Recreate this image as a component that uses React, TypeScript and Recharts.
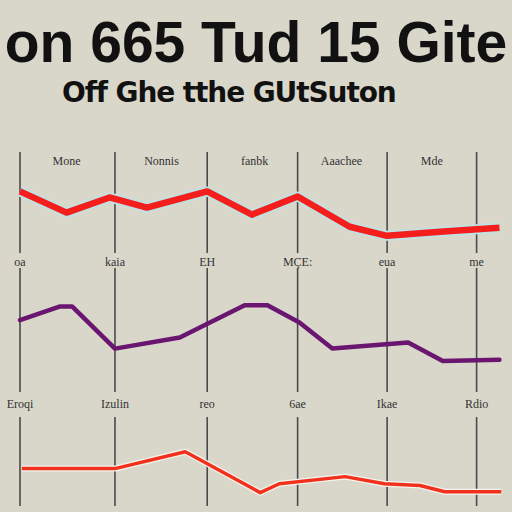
import { LineChart, Line, XAxis, YAxis, ReferenceLine } from "recharts";

// vertical guide lines and the label rows
const gridX = [0, 1.04, 2.05, 3.04, 4.02, 5.0];
const headerX = [0.51, 1.55, 2.57, 3.52, 4.51];
const headerLabels = ["Mone", "Nonnis", "fanbk", "Aaachee", "Mde"];
const rowOneLabels = ["oa", "kaia", "EH", "MÇE:", "eua", "me"];
const rowTwoLabels = ["Eroqi", "Izulin", "reo", "6ae", "Ikae", "Rdio"];

// top panel (red)
const topX = [0, 0.51, 0.98, 1.39, 2.05, 2.54, 3.04, 3.61, 4.02, 4.6, 5.25];
const topY = [61, 40, 55, 45, 61, 38, 56, 26, 17, 21, 25];

// middle panel (purple)
const midX = [0, 0.44, 0.57, 1.04, 1.75, 2.08, 2.46, 2.71, 3.06, 3.42, 4.25, 4.63, 5.25];
const midY = [58, 69, 69, 35, 44, 56, 70, 70, 56, 35, 40, 25, 26];

// bottom panel (thin red)
const botX = [0.02, 1.04, 1.81, 2.63, 2.84, 3.56, 3.99, 4.38, 4.65, 5.27];
const botY = [42, 42, 61, 15, 25, 33, 25, 23, 16, 16];

const bg = "#d9d7ca";
const gridColor = "#4a4a4a";
const tickStyle = { fontSize: 12, fill: "#333", fontFamily: "'Liberation Serif', serif" };

function zip(xs: number[], ys: number[]) {
  return xs.map((u, i) => ({ u, v: ys[i] }));
}

type PanelProps = {
  top: number;
  plotHeight: number;
  data: { u: number; v: number }[];
  bottomLabels?: string[];
  labelGap?: number;
  headers?: string[];
  children: React.ReactNode;
};

function Panel({ top, plotHeight, data, bottomLabels, labelGap = 4, headers, children }: PanelProps) {
  const axisH = bottomLabels ? 24 : 0;
  const height = 6 + plotHeight + axisH + (bottomLabels ? 0 : 1);
  return (
    <div style={{ position: "absolute", left: 0, top }}>
      <LineChart
        width={512}
        height={height}
        data={data}
        margin={{ top: 6, right: 8, bottom: 0, left: 20 }}
      >
        <XAxis
          xAxisId="b"
          dataKey="u"
          type="number"
          domain={[0, 5.3]}
          ticks={gridX}
          interval={0}
          hide={!bottomLabels}
          height={axisH}
          axisLine={false}
          tickLine={false}
          tickSize={0}
          tickMargin={labelGap}
          tick={tickStyle}
          tickFormatter={(_v: number, i: number) => (bottomLabels ? bottomLabels[i] : "")}
        />
        {headers && (
          <XAxis
            xAxisId="t"
            orientation="top"
            mirror
            dataKey="u"
            type="number"
            domain={[0, 5.3]}
            ticks={headerX}
            interval={0}
            axisLine={false}
            tickLine={false}
            tickSize={0}
            tickMargin={4}
            tick={tickStyle}
            tickFormatter={(_v: number, i: number) => headers[i]}
          />
        )}
        <YAxis hide domain={[0, 100]} />
        {gridX.map((x) => (
          <ReferenceLine key={x} xAxisId="b" x={x} stroke={gridColor} strokeWidth={1.6} />
        ))}
        {children}
      </LineChart>
    </div>
  );
}

export default function App() {
  return (
    <div
      style={{
        position: "fixed",
        left: 0,
        top: 0,
        width: 512,
        height: 512,
        background: bg,
        overflow: "hidden",
        fontFamily: "'Liberation Sans', sans-serif",
      }}
    >
      <div
        style={{
          position: "absolute",
          left: 0,
          width: 512,
          textAlign: "center",
          top: 14,
          fontSize: 57,
          fontWeight: "bold",
          lineHeight: 1,
          whiteSpace: "nowrap",
          color: "#111",
        }}
      >
        on 665 Tud 15 Gite
      </div>
      <div
        style={{
          position: "absolute",
          left: 62,
          top: 79,
          fontSize: 28,
          fontWeight: "bold",
          lineHeight: 1,
          whiteSpace: "nowrap",
          letterSpacing: -1.1,
          fontFamily: "'DejaVu Sans', sans-serif",
          color: "#111",
        }}
      >
        Off Ghe tthe GUtSuton
      </div>

      <Panel top={146} plotHeight={101} data={zip(topX, topY)} bottomLabels={rowOneLabels} headers={headerLabels}>
        <Line xAxisId="b" dataKey="v" stroke="#bfe2e4" strokeWidth={10} dot={false} isAnimationActive={false} strokeLinejoin="round" />
        <Line xAxisId="b" dataKey="v" stroke="#f41f1c" strokeWidth={6.5} dot={false} isAnimationActive={false} strokeLinejoin="round" />
      </Panel>

      <Panel top={262} plotHeight={124} data={zip(midX, midY)} bottomLabels={rowTwoLabels} labelGap={7}>
        <Line xAxisId="b" dataKey="v" stroke="#6a1670" strokeWidth={4.5} dot={false} isAnimationActive={false} strokeLinejoin="round" strokeLinecap="round" />
      </Panel>

      <Panel top={411} plotHeight={88} data={zip(botX, botY)}>
        <Line xAxisId="b" dataKey="v" stroke="#f4f4ee" strokeWidth={6} dot={false} isAnimationActive={false} strokeLinejoin="round" />
        <Line xAxisId="b" dataKey="v" stroke="#f2311c" strokeWidth={3.5} dot={false} isAnimationActive={false} strokeLinejoin="round" />
      </Panel>
    </div>
  );
}
